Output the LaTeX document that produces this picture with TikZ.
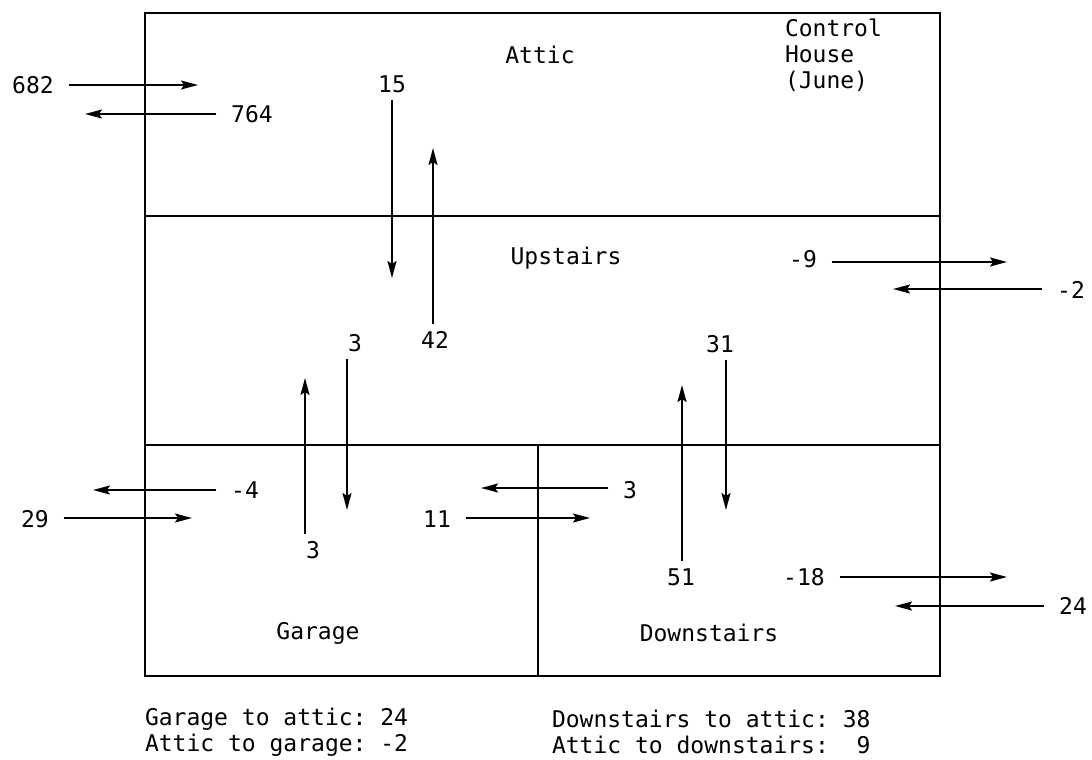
\documentclass[tikz,border=0pt]{standalone}
\usepackage{fontspec}
\setmonofont{DejaVu Sans Mono}
\usetikzlibrary{arrows.meta}
\tikzset{
  flowarr/.style  = {-{Stealth[length=17pt,width=9pt,inset=3pt]}, line width=1.9pt},
  roomline/.style = {line width=1.8pt},
  lbl/.style      = {font=\ttfamily\fontsize{23}{26}\selectfont\frenchspacing,
                     inner sep=0pt, outer xsep=15pt, outer ysep=7pt},
  note/.style     = {lbl, outer sep=0pt, align=left, anchor=west}
}
\begin{document}
\begin{tikzpicture}[x=1pt,y=-1pt]
  \useasboundingbox (0,0) rectangle (1092,760);
  % the house: attic, upstairs, garage and downstairs
  \draw[roomline] (145,13) rectangle (940,676);
  \draw[roomline] (145,216) -- (940,216);
  \draw[roomline] (145,445) -- (940,445);
  \draw[roomline] (538,445) -- (538,676);
  \node[lbl] (attic) at (540,55) {Attic};
  \node[lbl] (upstairs) at (566,258) {Upstairs};
  \node[lbl] (garage) at (318,633) {Garage};
  \node[lbl] (downstairs) at (709,633) {Downstairs};
  \node[lbl,outer sep=0pt,align=left,anchor=north west] (title) at (785,19)
       {Control\\House\\(June)};
  % attic <-> outside
  \node[lbl] (f682) at (33,85) {682};
  \coordinate (tip682) at (198,85);
  \draw[flowarr] (f682.east |- tip682) -- (tip682);
  \node[lbl] (f764) at (252,114) {764};
  \coordinate (tip764) at (85,114);
  \draw[flowarr] (f764.west |- tip764) -- (tip764);
  % attic <-> upstairs
  \node[lbl] (f15) at (392,84) {15};
  \coordinate (tip15) at (392,278);
  \draw[flowarr] (f15.south -| tip15) -- (tip15);
  \node[lbl] (f42) at (435,340) {42};
  \coordinate (tip42) at (433,148);
  \draw[flowarr] (f42.north -| tip42) -- (tip42);
  % upstairs <-> outside
  \node[lbl] (fm9) at (803,259) {-9};
  \coordinate (tipm9) at (1007,262);
  \draw[flowarr] (fm9.east |- tipm9) -- (tipm9);
  \node[lbl] (fm2) at (1071,290) {-2};
  \coordinate (tipm2) at (893,289);
  \draw[flowarr] (fm2.west |- tipm2) -- (tipm2);
  % upstairs <-> garage
  \node[lbl] (f3a) at (355,343) {3};
  \coordinate (tip3a) at (347,510);
  \draw[flowarr] (f3a.south -| tip3a) -- (tip3a);
  \node[lbl] (f3b) at (313,550) {3};
  \coordinate (tip3b) at (305,378);
  \draw[flowarr] (f3b.north -| tip3b) -- (tip3b);
  % upstairs <-> downstairs
  \node[lbl] (f31) at (720,344) {31};
  \coordinate (tip31) at (726,510);
  \draw[flowarr] (f31.south -| tip31) -- (tip31);
  \node[lbl] (f51) at (681,577) {51};
  \coordinate (tip51) at (682,385);
  \draw[flowarr] (f51.north -| tip51) -- (tip51);
  % garage <-> outside
  \node[lbl] (fm4) at (245,490) {-4};
  \coordinate (tipm4) at (93,490);
  \draw[flowarr] (fm4.west |- tipm4) -- (tipm4);
  \node[lbl] (f29) at (35,519) {29};
  \coordinate (tip29) at (192,518);
  \draw[flowarr] (f29.east |- tip29) -- (tip29);
  % garage <-> downstairs
  \node[lbl] (f11) at (437,519) {11};
  \coordinate (tip11) at (590,518);
  \draw[flowarr] (f11.east |- tip11) -- (tip11);
  \node[lbl] (f3c) at (630,490) {3};
  \coordinate (tip3c) at (481,488);
  \draw[flowarr] (f3c.west |- tip3c) -- (tip3c);
  % downstairs <-> outside
  \node[lbl] (fm18) at (804,577) {-18};
  \coordinate (tipm18) at (1007,577);
  \draw[flowarr] (fm18.east |- tipm18) -- (tipm18);
  \node[lbl] (f24) at (1073,606) {24};
  \coordinate (tip24) at (895,606);
  \draw[flowarr] (f24.west |- tip24) -- (tip24);
  % totals below the plan
  \node[note] (garnote) at (145,732) {Garage to attic: 24\\Attic to garage: -2};
  \node[note] (downnote) at (552,732) {Downstairs to attic: 38\\Attic to downstairs:~~9};
\end{tikzpicture}
\end{document}
